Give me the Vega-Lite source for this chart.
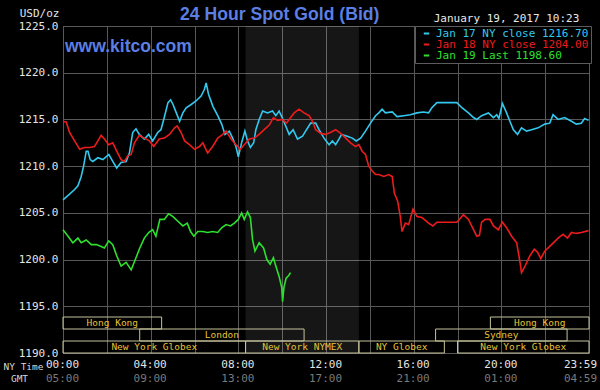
{
  "$schema": "https://vega.github.io/schema/vega-lite/v6.json",
  "width": 526,
  "height": 327,
  "autosize": {"type": "none"},
  "padding": {"left": 63, "top": 26, "right": 11, "bottom": 37},
  "background": "#000000",
  "config": {
    "view": {"stroke": "#5c5c5c", "fill": "#000000"},
    "axis": {"domain": false, "ticks": false, "tickSize": 0, "gridColor": "#585858", "gridWidth": 1, "labelFont": "DejaVu Sans Mono", "titleFont": "DejaVu Sans Mono", "titleFontWeight": "normal", "labelOverlap": false, "labelBound": false, "labelFlush": false}
  },
  "title": {"text": "24 Hour Spot Gold (Bid)", "anchor": "start", "frame": "group", "dx": 117, "dy": 35, "font": "Liberation Sans", "fontSize": 17.6, "fontWeight": "bold", "color": "#5b7fe3", "offset": 4, "baseline": "alphabetic"},
  "datasets": {
    "sessions": [
      {"session": "Hong Kong", "row": "top", "start": 0, "end": 4.5},
      {"session": "Hong Kong", "row": "top", "start": 19.5, "end": 24},
      {"session": "London", "row": "mid", "start": 3.5, "end": 11},
      {"session": "Sydney", "row": "mid", "start": 17, "end": 23},
      {"session": "New York Globex", "row": "bottom", "start": 0, "end": 8.33},
      {"session": "New York NYMEX", "row": "bottom", "start": 8.33, "end": 13.5},
      {"session": "NY Globex", "row": "bottom", "start": 13.5, "end": 17.4},
      {"session": "New York Globex", "row": "bottom", "start": 18, "end": 24}
    ],
    "gold": [
      {"series": "Jan 17 NY close 1216.70", "h": 0, "p": 1206.4},
      {"series": "Jan 17 NY close 1216.70", "h": 0.3, "p": 1207.0},
      {"series": "Jan 17 NY close 1216.70", "h": 0.53, "p": 1207.5},
      {"series": "Jan 17 NY close 1216.70", "h": 0.68, "p": 1207.9},
      {"series": "Jan 17 NY close 1216.70", "h": 0.83, "p": 1208.9},
      {"series": "Jan 17 NY close 1216.70", "h": 0.94, "p": 1210.0},
      {"series": "Jan 17 NY close 1216.70", "h": 1.06, "p": 1211.6},
      {"series": "Jan 17 NY close 1216.70", "h": 1.14, "p": 1211.6},
      {"series": "Jan 17 NY close 1216.70", "h": 1.24, "p": 1210.7},
      {"series": "Jan 17 NY close 1216.70", "h": 1.36, "p": 1210.5},
      {"series": "Jan 17 NY close 1216.70", "h": 1.59, "p": 1210.9},
      {"series": "Jan 17 NY close 1216.70", "h": 1.82, "p": 1210.7},
      {"series": "Jan 17 NY close 1216.70", "h": 2.09, "p": 1211.25},
      {"series": "Jan 17 NY close 1216.70", "h": 2.27, "p": 1210.5},
      {"series": "Jan 17 NY close 1216.70", "h": 2.45, "p": 1209.8},
      {"series": "Jan 17 NY close 1216.70", "h": 2.65, "p": 1210.4},
      {"series": "Jan 17 NY close 1216.70", "h": 2.88, "p": 1210.5},
      {"series": "Jan 17 NY close 1216.70", "h": 3.03, "p": 1211.4},
      {"series": "Jan 17 NY close 1216.70", "h": 3.18, "p": 1213.6},
      {"series": "Jan 17 NY close 1216.70", "h": 3.33, "p": 1214.0},
      {"series": "Jan 17 NY close 1216.70", "h": 3.48, "p": 1213.4},
      {"series": "Jan 17 NY close 1216.70", "h": 3.71, "p": 1212.9},
      {"series": "Jan 17 NY close 1216.70", "h": 3.91, "p": 1213.4},
      {"series": "Jan 17 NY close 1216.70", "h": 4.09, "p": 1212.7},
      {"series": "Jan 17 NY close 1216.70", "h": 4.32, "p": 1213.6},
      {"series": "Jan 17 NY close 1216.70", "h": 4.47, "p": 1213.9},
      {"series": "Jan 17 NY close 1216.70", "h": 4.62, "p": 1215.2},
      {"series": "Jan 17 NY close 1216.70", "h": 4.79, "p": 1216.8},
      {"series": "Jan 17 NY close 1216.70", "h": 4.91, "p": 1217.1},
      {"series": "Jan 17 NY close 1216.70", "h": 5.02, "p": 1216.6},
      {"series": "Jan 17 NY close 1216.70", "h": 5.17, "p": 1215.7},
      {"series": "Jan 17 NY close 1216.70", "h": 5.32, "p": 1214.8},
      {"series": "Jan 17 NY close 1216.70", "h": 5.47, "p": 1215.7},
      {"series": "Jan 17 NY close 1216.70", "h": 5.62, "p": 1216.25},
      {"series": "Jan 17 NY close 1216.70", "h": 5.85, "p": 1216.6},
      {"series": "Jan 17 NY close 1216.70", "h": 6.08, "p": 1217.0},
      {"series": "Jan 17 NY close 1216.70", "h": 6.3, "p": 1217.5},
      {"series": "Jan 17 NY close 1216.70", "h": 6.45, "p": 1218.2},
      {"series": "Jan 17 NY close 1216.70", "h": 6.53, "p": 1218.9},
      {"series": "Jan 17 NY close 1216.70", "h": 6.64, "p": 1217.7},
      {"series": "Jan 17 NY close 1216.70", "h": 6.84, "p": 1216.4},
      {"series": "Jan 17 NY close 1216.70", "h": 7.06, "p": 1215.4},
      {"series": "Jan 17 NY close 1216.70", "h": 7.24, "p": 1214.5},
      {"series": "Jan 17 NY close 1216.70", "h": 7.39, "p": 1213.4},
      {"series": "Jan 17 NY close 1216.70", "h": 7.59, "p": 1213.75},
      {"series": "Jan 17 NY close 1216.70", "h": 7.74, "p": 1213.0},
      {"series": "Jan 17 NY close 1216.70", "h": 7.89, "p": 1212.1},
      {"series": "Jan 17 NY close 1216.70", "h": 8.0, "p": 1211.0},
      {"series": "Jan 17 NY close 1216.70", "h": 8.15, "p": 1212.5},
      {"series": "Jan 17 NY close 1216.70", "h": 8.3, "p": 1213.75},
      {"series": "Jan 17 NY close 1216.70", "h": 8.42, "p": 1212.7},
      {"series": "Jan 17 NY close 1216.70", "h": 8.55, "p": 1212.0},
      {"series": "Jan 17 NY close 1216.70", "h": 8.7, "p": 1212.5},
      {"series": "Jan 17 NY close 1216.70", "h": 8.8, "p": 1213.9},
      {"series": "Jan 17 NY close 1216.70", "h": 8.95, "p": 1215.0},
      {"series": "Jan 17 NY close 1216.70", "h": 9.11, "p": 1215.9},
      {"series": "Jan 17 NY close 1216.70", "h": 9.33, "p": 1215.7},
      {"series": "Jan 17 NY close 1216.70", "h": 9.56, "p": 1215.9},
      {"series": "Jan 17 NY close 1216.70", "h": 9.71, "p": 1215.4},
      {"series": "Jan 17 NY close 1216.70", "h": 9.86, "p": 1215.9},
      {"series": "Jan 17 NY close 1216.70", "h": 10.0, "p": 1215.2},
      {"series": "Jan 17 NY close 1216.70", "h": 10.16, "p": 1214.3},
      {"series": "Jan 17 NY close 1216.70", "h": 10.32, "p": 1213.4},
      {"series": "Jan 17 NY close 1216.70", "h": 10.5, "p": 1213.9},
      {"series": "Jan 17 NY close 1216.70", "h": 10.7, "p": 1212.9},
      {"series": "Jan 17 NY close 1216.70", "h": 10.93, "p": 1213.2},
      {"series": "Jan 17 NY close 1216.70", "h": 11.11, "p": 1213.9},
      {"series": "Jan 17 NY close 1216.70", "h": 11.3, "p": 1214.6},
      {"series": "Jan 17 NY close 1216.70", "h": 11.53, "p": 1214.6},
      {"series": "Jan 17 NY close 1216.70", "h": 11.68, "p": 1213.9},
      {"series": "Jan 17 NY close 1216.70", "h": 11.91, "p": 1213.0},
      {"series": "Jan 17 NY close 1216.70", "h": 12.14, "p": 1212.3},
      {"series": "Jan 17 NY close 1216.70", "h": 12.29, "p": 1212.7},
      {"series": "Jan 17 NY close 1216.70", "h": 12.44, "p": 1212.3},
      {"series": "Jan 17 NY close 1216.70", "h": 12.59, "p": 1212.9},
      {"series": "Jan 17 NY close 1216.70", "h": 12.71, "p": 1213.4},
      {"series": "Jan 17 NY close 1216.70", "h": 12.97, "p": 1213.2},
      {"series": "Jan 17 NY close 1216.70", "h": 13.2, "p": 1213.0},
      {"series": "Jan 17 NY close 1216.70", "h": 13.38, "p": 1212.7},
      {"series": "Jan 17 NY close 1216.70", "h": 13.58, "p": 1213.0},
      {"series": "Jan 17 NY close 1216.70", "h": 13.8, "p": 1213.75},
      {"series": "Jan 17 NY close 1216.70", "h": 14.03, "p": 1214.6},
      {"series": "Jan 17 NY close 1216.70", "h": 14.26, "p": 1215.4},
      {"series": "Jan 17 NY close 1216.70", "h": 14.41, "p": 1215.7},
      {"series": "Jan 17 NY close 1216.70", "h": 14.56, "p": 1216.1},
      {"series": "Jan 17 NY close 1216.70", "h": 14.71, "p": 1215.7},
      {"series": "Jan 17 NY close 1216.70", "h": 15.02, "p": 1215.8},
      {"series": "Jan 17 NY close 1216.70", "h": 15.24, "p": 1215.3},
      {"series": "Jan 17 NY close 1216.70", "h": 15.55, "p": 1215.4},
      {"series": "Jan 17 NY close 1216.70", "h": 15.85, "p": 1215.5},
      {"series": "Jan 17 NY close 1216.70", "h": 16.15, "p": 1215.7},
      {"series": "Jan 17 NY close 1216.70", "h": 16.45, "p": 1215.8},
      {"series": "Jan 17 NY close 1216.70", "h": 16.68, "p": 1215.7},
      {"series": "Jan 17 NY close 1216.70", "h": 16.83, "p": 1216.25},
      {"series": "Jan 17 NY close 1216.70", "h": 17.06, "p": 1216.8},
      {"series": "Jan 17 NY close 1216.70", "h": 17.97, "p": 1216.8},
      {"series": "Jan 17 NY close 1216.70", "h": 18.2, "p": 1216.25},
      {"series": "Jan 17 NY close 1216.70", "h": 18.5, "p": 1215.7},
      {"series": "Jan 17 NY close 1216.70", "h": 18.73, "p": 1215.2},
      {"series": "Jan 17 NY close 1216.70", "h": 18.88, "p": 1215.0},
      {"series": "Jan 17 NY close 1216.70", "h": 19.1, "p": 1215.4},
      {"series": "Jan 17 NY close 1216.70", "h": 19.41, "p": 1215.7},
      {"series": "Jan 17 NY close 1216.70", "h": 19.64, "p": 1215.2},
      {"series": "Jan 17 NY close 1216.70", "h": 19.79, "p": 1215.5},
      {"series": "Jan 17 NY close 1216.70", "h": 19.89, "p": 1215.1},
      {"series": "Jan 17 NY close 1216.70", "h": 20.05, "p": 1216.7},
      {"series": "Jan 17 NY close 1216.70", "h": 20.24, "p": 1215.7},
      {"series": "Jan 17 NY close 1216.70", "h": 20.39, "p": 1214.8},
      {"series": "Jan 17 NY close 1216.70", "h": 20.55, "p": 1213.9},
      {"series": "Jan 17 NY close 1216.70", "h": 20.74, "p": 1213.4},
      {"series": "Jan 17 NY close 1216.70", "h": 20.92, "p": 1214.1},
      {"series": "Jan 17 NY close 1216.70", "h": 21.15, "p": 1213.75},
      {"series": "Jan 17 NY close 1216.70", "h": 21.38, "p": 1213.9},
      {"series": "Jan 17 NY close 1216.70", "h": 21.68, "p": 1214.1},
      {"series": "Jan 17 NY close 1216.70", "h": 21.98, "p": 1214.5},
      {"series": "Jan 17 NY close 1216.70", "h": 22.21, "p": 1214.6},
      {"series": "Jan 17 NY close 1216.70", "h": 22.36, "p": 1215.5},
      {"series": "Jan 17 NY close 1216.70", "h": 22.59, "p": 1215.0},
      {"series": "Jan 17 NY close 1216.70", "h": 22.89, "p": 1215.2},
      {"series": "Jan 17 NY close 1216.70", "h": 23.2, "p": 1214.8},
      {"series": "Jan 17 NY close 1216.70", "h": 23.42, "p": 1214.5},
      {"series": "Jan 17 NY close 1216.70", "h": 23.65, "p": 1214.6},
      {"series": "Jan 17 NY close 1216.70", "h": 23.8, "p": 1215.1},
      {"series": "Jan 17 NY close 1216.70", "h": 23.98, "p": 1214.9},
      {"series": "Jan 18 NY close 1204.00", "h": 0, "p": 1214.8},
      {"series": "Jan 18 NY close 1204.00", "h": 0.15, "p": 1214.7},
      {"series": "Jan 18 NY close 1204.00", "h": 0.3, "p": 1213.6},
      {"series": "Jan 18 NY close 1204.00", "h": 0.53, "p": 1212.7},
      {"series": "Jan 18 NY close 1204.00", "h": 0.76, "p": 1211.8},
      {"series": "Jan 18 NY close 1204.00", "h": 0.98, "p": 1212.0},
      {"series": "Jan 18 NY close 1204.00", "h": 1.21, "p": 1212.0},
      {"series": "Jan 18 NY close 1204.00", "h": 1.44, "p": 1212.1},
      {"series": "Jan 18 NY close 1204.00", "h": 1.59, "p": 1212.7},
      {"series": "Jan 18 NY close 1204.00", "h": 1.74, "p": 1213.3},
      {"series": "Jan 18 NY close 1204.00", "h": 1.89, "p": 1212.9},
      {"series": "Jan 18 NY close 1204.00", "h": 2.09, "p": 1212.3},
      {"series": "Jan 18 NY close 1204.00", "h": 2.27, "p": 1212.5},
      {"series": "Jan 18 NY close 1204.00", "h": 2.45, "p": 1211.6},
      {"series": "Jan 18 NY close 1204.00", "h": 2.65, "p": 1210.7},
      {"series": "Jan 18 NY close 1204.00", "h": 2.8, "p": 1210.5},
      {"series": "Jan 18 NY close 1204.00", "h": 2.95, "p": 1211.1},
      {"series": "Jan 18 NY close 1204.00", "h": 3.11, "p": 1211.25},
      {"series": "Jan 18 NY close 1204.00", "h": 3.26, "p": 1212.5},
      {"series": "Jan 18 NY close 1204.00", "h": 3.48, "p": 1213.3},
      {"series": "Jan 18 NY close 1204.00", "h": 3.71, "p": 1213.0},
      {"series": "Jan 18 NY close 1204.00", "h": 3.94, "p": 1212.7},
      {"series": "Jan 18 NY close 1204.00", "h": 4.14, "p": 1212.1},
      {"series": "Jan 18 NY close 1204.00", "h": 4.39, "p": 1212.9},
      {"series": "Jan 18 NY close 1204.00", "h": 4.62, "p": 1213.0},
      {"series": "Jan 18 NY close 1204.00", "h": 4.86, "p": 1213.4},
      {"series": "Jan 18 NY close 1204.00", "h": 5.09, "p": 1214.1},
      {"series": "Jan 18 NY close 1204.00", "h": 5.21, "p": 1214.3},
      {"series": "Jan 18 NY close 1204.00", "h": 5.39, "p": 1213.6},
      {"series": "Jan 18 NY close 1204.00", "h": 5.55, "p": 1212.7},
      {"series": "Jan 18 NY close 1204.00", "h": 5.77, "p": 1212.3},
      {"series": "Jan 18 NY close 1204.00", "h": 6.0, "p": 1211.8},
      {"series": "Jan 18 NY close 1204.00", "h": 6.23, "p": 1212.1},
      {"series": "Jan 18 NY close 1204.00", "h": 6.38, "p": 1212.5},
      {"series": "Jan 18 NY close 1204.00", "h": 6.6, "p": 1211.4},
      {"series": "Jan 18 NY close 1204.00", "h": 6.83, "p": 1212.1},
      {"series": "Jan 18 NY close 1204.00", "h": 7.06, "p": 1213.0},
      {"series": "Jan 18 NY close 1204.00", "h": 7.29, "p": 1213.4},
      {"series": "Jan 18 NY close 1204.00", "h": 7.44, "p": 1213.75},
      {"series": "Jan 18 NY close 1204.00", "h": 7.67, "p": 1212.9},
      {"series": "Jan 18 NY close 1204.00", "h": 7.89, "p": 1212.3},
      {"series": "Jan 18 NY close 1204.00", "h": 8.09, "p": 1211.8},
      {"series": "Jan 18 NY close 1204.00", "h": 8.27, "p": 1212.3},
      {"series": "Jan 18 NY close 1204.00", "h": 8.5, "p": 1212.9},
      {"series": "Jan 18 NY close 1204.00", "h": 8.73, "p": 1213.0},
      {"series": "Jan 18 NY close 1204.00", "h": 8.95, "p": 1213.4},
      {"series": "Jan 18 NY close 1204.00", "h": 9.18, "p": 1213.9},
      {"series": "Jan 18 NY close 1204.00", "h": 9.41, "p": 1214.4},
      {"series": "Jan 18 NY close 1204.00", "h": 9.6, "p": 1215.2},
      {"series": "Jan 18 NY close 1204.00", "h": 9.79, "p": 1214.9},
      {"series": "Jan 18 NY close 1204.00", "h": 10.0, "p": 1215.0},
      {"series": "Jan 18 NY close 1204.00", "h": 10.2, "p": 1214.6},
      {"series": "Jan 18 NY close 1204.00", "h": 10.35, "p": 1215.1},
      {"series": "Jan 18 NY close 1204.00", "h": 10.55, "p": 1215.7},
      {"series": "Jan 18 NY close 1204.00", "h": 10.77, "p": 1216.1},
      {"series": "Jan 18 NY close 1204.00", "h": 11.0, "p": 1215.7},
      {"series": "Jan 18 NY close 1204.00", "h": 11.23, "p": 1215.4},
      {"series": "Jan 18 NY close 1204.00", "h": 11.38, "p": 1214.8},
      {"series": "Jan 18 NY close 1204.00", "h": 11.53, "p": 1213.9},
      {"series": "Jan 18 NY close 1204.00", "h": 11.76, "p": 1213.5},
      {"series": "Jan 18 NY close 1204.00", "h": 11.98, "p": 1213.4},
      {"series": "Jan 18 NY close 1204.00", "h": 12.2, "p": 1213.6},
      {"series": "Jan 18 NY close 1204.00", "h": 12.44, "p": 1213.9},
      {"series": "Jan 18 NY close 1204.00", "h": 12.67, "p": 1213.5},
      {"series": "Jan 18 NY close 1204.00", "h": 12.9, "p": 1213.0},
      {"series": "Jan 18 NY close 1204.00", "h": 13.12, "p": 1212.5},
      {"series": "Jan 18 NY close 1204.00", "h": 13.35, "p": 1212.1},
      {"series": "Jan 18 NY close 1204.00", "h": 13.5, "p": 1212.3},
      {"series": "Jan 18 NY close 1204.00", "h": 13.65, "p": 1211.6},
      {"series": "Jan 18 NY close 1204.00", "h": 13.8, "p": 1211.25},
      {"series": "Jan 18 NY close 1204.00", "h": 13.95, "p": 1210.0},
      {"series": "Jan 18 NY close 1204.00", "h": 14.1, "p": 1209.5},
      {"series": "Jan 18 NY close 1204.00", "h": 14.26, "p": 1209.1},
      {"series": "Jan 18 NY close 1204.00", "h": 14.41, "p": 1209.1},
      {"series": "Jan 18 NY close 1204.00", "h": 14.64, "p": 1208.9},
      {"series": "Jan 18 NY close 1204.00", "h": 14.86, "p": 1209.1},
      {"series": "Jan 18 NY close 1204.00", "h": 15.02, "p": 1208.9},
      {"series": "Jan 18 NY close 1204.00", "h": 15.12, "p": 1207.1},
      {"series": "Jan 18 NY close 1204.00", "h": 15.27, "p": 1206.25},
      {"series": "Jan 18 NY close 1204.00", "h": 15.39, "p": 1204.6},
      {"series": "Jan 18 NY close 1204.00", "h": 15.47, "p": 1203.0},
      {"series": "Jan 18 NY close 1204.00", "h": 15.62, "p": 1203.9},
      {"series": "Jan 18 NY close 1204.00", "h": 15.77, "p": 1203.75},
      {"series": "Jan 18 NY close 1204.00", "h": 15.97, "p": 1205.4},
      {"series": "Jan 18 NY close 1204.00", "h": 16.15, "p": 1204.6},
      {"series": "Jan 18 NY close 1204.00", "h": 16.38, "p": 1204.5},
      {"series": "Jan 18 NY close 1204.00", "h": 16.68, "p": 1203.9},
      {"series": "Jan 18 NY close 1204.00", "h": 16.88, "p": 1203.6},
      {"series": "Jan 18 NY close 1204.00", "h": 17.06, "p": 1204.0},
      {"series": "Jan 18 NY close 1204.00", "h": 17.97, "p": 1204.0},
      {"series": "Jan 18 NY close 1204.00", "h": 18.27, "p": 1204.8},
      {"series": "Jan 18 NY close 1204.00", "h": 18.5, "p": 1204.3},
      {"series": "Jan 18 NY close 1204.00", "h": 18.73, "p": 1203.2},
      {"series": "Jan 18 NY close 1204.00", "h": 18.88, "p": 1202.5},
      {"series": "Jan 18 NY close 1204.00", "h": 19.0, "p": 1202.6},
      {"series": "Jan 18 NY close 1204.00", "h": 19.1, "p": 1204.0},
      {"series": "Jan 18 NY close 1204.00", "h": 19.26, "p": 1204.3},
      {"series": "Jan 18 NY close 1204.00", "h": 19.48, "p": 1204.3},
      {"series": "Jan 18 NY close 1204.00", "h": 19.64, "p": 1203.6},
      {"series": "Jan 18 NY close 1204.00", "h": 19.86, "p": 1203.2},
      {"series": "Jan 18 NY close 1204.00", "h": 20.05, "p": 1204.0},
      {"series": "Jan 18 NY close 1204.00", "h": 20.24, "p": 1203.4},
      {"series": "Jan 18 NY close 1204.00", "h": 20.47, "p": 1202.5},
      {"series": "Jan 18 NY close 1204.00", "h": 20.7, "p": 1201.8},
      {"series": "Jan 18 NY close 1204.00", "h": 20.86, "p": 1199.6},
      {"series": "Jan 18 NY close 1204.00", "h": 20.92, "p": 1198.6},
      {"series": "Jan 18 NY close 1204.00", "h": 21.08, "p": 1199.3},
      {"series": "Jan 18 NY close 1204.00", "h": 21.3, "p": 1200.4},
      {"series": "Jan 18 NY close 1204.00", "h": 21.5, "p": 1201.1},
      {"series": "Jan 18 NY close 1204.00", "h": 21.65, "p": 1200.8},
      {"series": "Jan 18 NY close 1204.00", "h": 21.8, "p": 1200.1},
      {"series": "Jan 18 NY close 1204.00", "h": 21.98, "p": 1200.9},
      {"series": "Jan 18 NY close 1204.00", "h": 22.29, "p": 1201.6},
      {"series": "Jan 18 NY close 1204.00", "h": 22.59, "p": 1202.3},
      {"series": "Jan 18 NY close 1204.00", "h": 22.82, "p": 1202.7},
      {"series": "Jan 18 NY close 1204.00", "h": 23.02, "p": 1202.3},
      {"series": "Jan 18 NY close 1204.00", "h": 23.2, "p": 1202.9},
      {"series": "Jan 18 NY close 1204.00", "h": 23.42, "p": 1202.8},
      {"series": "Jan 18 NY close 1204.00", "h": 23.65, "p": 1202.9},
      {"series": "Jan 18 NY close 1204.00", "h": 23.98, "p": 1203.1},
      {"series": "Jan 19 Last 1198.60", "h": 0, "p": 1203.2},
      {"series": "Jan 19 Last 1198.60", "h": 0.23, "p": 1202.5},
      {"series": "Jan 19 Last 1198.60", "h": 0.45, "p": 1201.8},
      {"series": "Jan 19 Last 1198.60", "h": 0.68, "p": 1202.3},
      {"series": "Jan 19 Last 1198.60", "h": 0.83, "p": 1201.8},
      {"series": "Jan 19 Last 1198.60", "h": 1.06, "p": 1202.1},
      {"series": "Jan 19 Last 1198.60", "h": 1.29, "p": 1201.6},
      {"series": "Jan 19 Last 1198.60", "h": 1.52, "p": 1201.6},
      {"series": "Jan 19 Last 1198.60", "h": 1.74, "p": 1201.4},
      {"series": "Jan 19 Last 1198.60", "h": 1.89, "p": 1201.25},
      {"series": "Jan 19 Last 1198.60", "h": 2.09, "p": 1202.0},
      {"series": "Jan 19 Last 1198.60", "h": 2.27, "p": 1201.6},
      {"series": "Jan 19 Last 1198.60", "h": 2.45, "p": 1200.4},
      {"series": "Jan 19 Last 1198.60", "h": 2.65, "p": 1199.3},
      {"series": "Jan 19 Last 1198.60", "h": 2.88, "p": 1199.7},
      {"series": "Jan 19 Last 1198.60", "h": 3.11, "p": 1198.9},
      {"series": "Jan 19 Last 1198.60", "h": 3.3, "p": 1200.0},
      {"series": "Jan 19 Last 1198.60", "h": 3.48, "p": 1201.1},
      {"series": "Jan 19 Last 1198.60", "h": 3.71, "p": 1202.3},
      {"series": "Jan 19 Last 1198.60", "h": 3.91, "p": 1202.9},
      {"series": "Jan 19 Last 1198.60", "h": 4.09, "p": 1203.2},
      {"series": "Jan 19 Last 1198.60", "h": 4.24, "p": 1202.5},
      {"series": "Jan 19 Last 1198.60", "h": 4.42, "p": 1204.3},
      {"series": "Jan 19 Last 1198.60", "h": 4.62, "p": 1204.3},
      {"series": "Jan 19 Last 1198.60", "h": 4.82, "p": 1204.9},
      {"series": "Jan 19 Last 1198.60", "h": 5.02, "p": 1204.6},
      {"series": "Jan 19 Last 1198.60", "h": 5.24, "p": 1204.1},
      {"series": "Jan 19 Last 1198.60", "h": 5.47, "p": 1203.6},
      {"series": "Jan 19 Last 1198.60", "h": 5.67, "p": 1203.9},
      {"series": "Jan 19 Last 1198.60", "h": 5.82, "p": 1203.0},
      {"series": "Jan 19 Last 1198.60", "h": 5.97, "p": 1202.5},
      {"series": "Jan 19 Last 1198.60", "h": 6.15, "p": 1203.0},
      {"series": "Jan 19 Last 1198.60", "h": 6.38, "p": 1203.0},
      {"series": "Jan 19 Last 1198.60", "h": 6.6, "p": 1202.9},
      {"series": "Jan 19 Last 1198.60", "h": 6.83, "p": 1203.0},
      {"series": "Jan 19 Last 1198.60", "h": 7.06, "p": 1202.9},
      {"series": "Jan 19 Last 1198.60", "h": 7.24, "p": 1203.4},
      {"series": "Jan 19 Last 1198.60", "h": 7.44, "p": 1203.75},
      {"series": "Jan 19 Last 1198.60", "h": 7.64, "p": 1203.6},
      {"series": "Jan 19 Last 1198.60", "h": 7.82, "p": 1203.9},
      {"series": "Jan 19 Last 1198.60", "h": 8.0, "p": 1204.3},
      {"series": "Jan 19 Last 1198.60", "h": 8.15, "p": 1205.0},
      {"series": "Jan 19 Last 1198.60", "h": 8.27, "p": 1204.3},
      {"series": "Jan 19 Last 1198.60", "h": 8.42, "p": 1205.1},
      {"series": "Jan 19 Last 1198.60", "h": 8.55, "p": 1204.5},
      {"series": "Jan 19 Last 1198.60", "h": 8.65, "p": 1202.1},
      {"series": "Jan 19 Last 1198.60", "h": 8.76, "p": 1200.9},
      {"series": "Jan 19 Last 1198.60", "h": 8.95, "p": 1201.8},
      {"series": "Jan 19 Last 1198.60", "h": 9.15, "p": 1201.25},
      {"series": "Jan 19 Last 1198.60", "h": 9.3, "p": 1200.0},
      {"series": "Jan 19 Last 1198.60", "h": 9.45, "p": 1199.5},
      {"series": "Jan 19 Last 1198.60", "h": 9.6, "p": 1200.2},
      {"series": "Jan 19 Last 1198.60", "h": 9.71, "p": 1199.3},
      {"series": "Jan 19 Last 1198.60", "h": 9.86, "p": 1198.2},
      {"series": "Jan 19 Last 1198.60", "h": 9.98, "p": 1197.0},
      {"series": "Jan 19 Last 1198.60", "h": 10.02, "p": 1195.5},
      {"series": "Jan 19 Last 1198.60", "h": 10.08, "p": 1197.0},
      {"series": "Jan 19 Last 1198.60", "h": 10.18, "p": 1198.0},
      {"series": "Jan 19 Last 1198.60", "h": 10.3, "p": 1198.3},
      {"series": "Jan 19 Last 1198.60", "h": 10.38, "p": 1198.6}
    ]
  },
  "layer": [
    {
      "data": {"name": "sessions"},
      "transform": [{"filter": "datum.session == 'New York NYMEX'"}],
      "mark": {"type": "rect", "fill": "#ffffff", "fillOpacity": 0.085},
      "encoding": {
        "x": {"field": "start", "type": "quantitative", "scale": {"domain": [0, 24], "nice": false, "zero": false},
          "axis": {"orient": "bottom", "grid": true, "values": [0, 2, 4, 6, 8, 10, 12, 14, 16, 18, 20, 22, 24],
            "labelExpr": "datum.value == 24 ? '23:59' : (datum.value % 4 == 0 ? (datum.value < 10 ? '0' : '') + datum.value + ':00' : '')",
            "labelColor": "#e4e4e4", "labelFontSize": 11, "labelPadding": 5,
            "labelOffset": {"condition": {"test": "datum.value == 24", "value": -9}, "value": -1},
            "title": "NY Time", "titleX": -40, "titleY": 13, "titleBaseline": "middle", "titleFontSize": 9.5, "titleColor": "#d8d8d8"}},
        "x2": {"field": "end"}
      }
    },
    {
      "data": {"name": "gold"},
      "mark": {"type": "line", "strokeWidth": 1.6},
      "encoding": {
        "x": {"field": "h", "type": "quantitative", "scale": {"domain": [0, 24], "nice": false, "zero": false},
          "axis": {"orient": "bottom", "offset": 14, "grid": false, "values": [0, 4, 8, 12, 16, 20, 24],
            "labelExpr": "datum.value == 24 ? '04:59' : ((((datum.value + 5) % 24) < 10 ? '0' : '') + ((datum.value + 5) % 24) + ':00')",
            "labelColor": "#7a7a7a", "labelFontSize": 11, "labelPadding": 5,
            "labelOffset": {"condition": {"test": "datum.value == 24", "value": -9}, "value": -1},
            "title": "GMT", "titleX": -44, "titleY": 11, "titleBaseline": "middle", "titleFontSize": 9.5, "titleColor": "#d8d8d8"}},
        "y": {"field": "p", "type": "quantitative", "scale": {"domain": [1190, 1225], "nice": false, "zero": false},
          "axis": {"values": [1190, 1195, 1200, 1205, 1210, 1215, 1220, 1225], "format": ".1f", "grid": true,
            "labelColor": "#e4e4e4", "labelFontSize": 11, "labelPadding": 5,
            "title": "USD/oz", "titleAngle": 0, "titleAlign": "right", "titleBaseline": "middle", "titleX": -4, "titleY": -13, "titleFontSize": 11, "titleColor": "#e4e4e4"}},
        "color": {"field": "series", "type": "nominal",
          "scale": {"domain": ["Jan 17 NY close 1216.70", "Jan 18 NY close 1204.00", "Jan 19 Last 1198.60"], "range": ["#33c8ee", "#ec1c1c", "#2ee02e"]},
          "legend": {"orient": "none", "legendX": 352, "legendY": 0, "title": null, "padding": 2, "fillColor": "#000000", "strokeColor": "#5c5c5c",
            "symbolType": "stroke", "symbolSize": 30, "symbolStrokeWidth": 2, "symbolOffset": 4, "labelFont": "DejaVu Sans Mono", "labelFontSize": 11, "labelOffset": 4, "rowPadding": -1.2, "labelLimit": 300,
            "encode": {"labels": {"update": {"fill": {"scale": "color", "field": "value"}}}}}}
      }
    },
    {
      "data": {"values": [{"label": "www.kitco.com"}]},
      "mark": {"type": "text", "align": "left", "baseline": "middle", "dx": 2, "font": "Liberation Sans", "fontWeight": "bold", "fontSize": 17.5, "color": "#5b7fe3"},
      "encoding": {
        "x": {"datum": 0, "axis": null},
        "y": {"datum": 1222.8, "scale": {"domain": [1190, 1225], "nice": false, "zero": false}, "axis": null},
        "text": {"field": "label"}
      }
    },
    {
      "data": {"values": [{"label": "January 19, 2017 10:23"}]},
      "mark": {"type": "text", "align": "right", "baseline": "middle", "font": "DejaVu Sans Mono", "fontSize": 11, "color": "#e8e8e8"},
      "encoding": {
        "x": {"datum": 23.56, "axis": null},
        "y": {"datum": 1225.75, "scale": {"domain": [1190, 1225], "nice": false, "zero": false}, "axis": null},
        "text": {"field": "label"}
      }
    },
    {
      "data": {"name": "sessions"},
      "mark": {"type": "bar", "fill": "#000000", "fillOpacity": 0, "stroke": "#c4c39a", "strokeWidth": 1},
      "encoding": {
        "x": {"field": "start", "type": "quantitative", "axis": null},
        "x2": {"field": "end"},
        "y": {"field": "row", "type": "nominal", "axis": null, "scale": {"domain": ["top", "mid", "bottom"], "range": [291, 327], "paddingInner": 0, "paddingOuter": 0}}
      }
    },
    {
      "data": {"name": "sessions"},
      "transform": [
        {"fold": ["start", "end"], "as": ["edge", "t"]},
        {"aggregate": [{"op": "mean", "field": "t", "as": "mid"}], "groupby": ["session", "row", "start", "end"]}
      ],
      "mark": {"type": "text", "font": "DejaVu Sans Mono", "fontSize": 9.5, "color": "#e8c23a", "baseline": "middle"},
      "encoding": {
        "x": {"field": "mid", "type": "quantitative", "axis": null},
        "y": {"field": "row", "type": "nominal", "axis": null, "scale": {"domain": ["top", "mid", "bottom"], "range": [291, 327], "paddingInner": 0, "paddingOuter": 0}},
        "text": {"field": "session"}
      }
    }
  ],
  "resolve": {"scale": {"y": "independent"}, "axis": {"x": "independent", "y": "independent"}}
}
